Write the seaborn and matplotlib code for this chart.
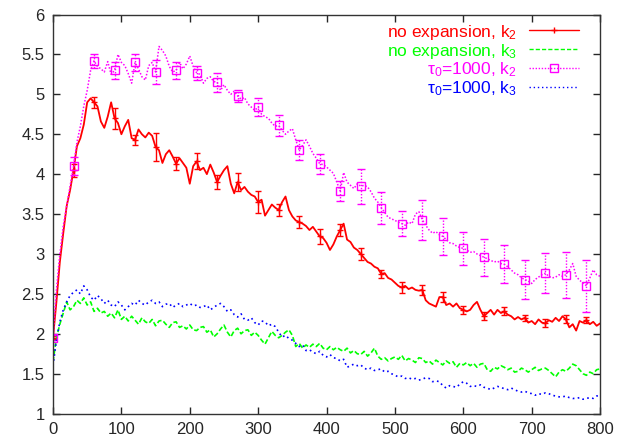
import numpy as np
import matplotlib
matplotlib.use('Agg')
import matplotlib.pyplot as plt
from matplotlib.lines import Line2D
from matplotlib.ticker import MultipleLocator, FormatStrFormatter
import seaborn as sns

# Time axis (one sample every 5 steps) and error-bar sample every 30 steps
time = np.arange(0, 805, 5)
err_step = 6

# no expansion, k2
k2_noexp = [1.95, 2.40, 2.90, 3.26, 3.60, 3.80, 4.05, 4.35, 4.45, 4.62,
            4.90, 4.95, 4.90, 4.85, 4.66, 4.58, 4.72, 4.90, 4.70, 4.64,
            4.50, 4.60, 4.68, 4.45, 4.43, 4.56, 4.50, 4.46, 4.52, 4.48,
            4.34, 4.30, 4.14, 4.25, 4.30, 4.22, 4.13, 4.20, 4.14, 4.08,
            3.88, 4.10, 4.16, 4.05, 4.08, 4.00, 4.12, 4.02, 3.90, 3.98,
            4.05, 4.10, 3.88, 3.76, 3.90, 3.80, 3.84, 3.78, 3.74, 3.72,
            3.65, 3.68, 3.48, 3.55, 3.62, 3.58, 3.55, 3.65, 3.72, 3.55,
            3.47, 3.42, 3.40, 3.38, 3.35, 3.30, 3.34, 3.28, 3.22, 3.20,
            3.14, 3.05, 3.12, 3.22, 3.30, 3.38, 3.18, 3.15, 3.08, 3.05,
            3.00, 2.95, 2.90, 2.88, 2.84, 2.82, 2.75, 2.76, 2.70, 2.68,
            2.64, 2.60, 2.58, 2.60, 2.56, 2.58, 2.55, 2.54, 2.55, 2.42,
            2.38, 2.36, 2.34, 2.46, 2.46, 2.36, 2.38, 2.34, 2.38, 2.32,
            2.30, 2.28, 2.30, 2.36, 2.40, 2.30, 2.22, 2.26, 2.30, 2.24,
            2.30, 2.26, 2.28, 2.24, 2.22, 2.18, 2.21, 2.18, 2.20, 2.14,
            2.16, 2.12, 2.18, 2.14, 2.13, 2.17, 2.15, 2.20, 2.16, 2.22,
            2.18, 2.08, 2.12, 2.04, 2.16, 2.14, 2.17, 2.12, 2.15, 2.10,
            2.13]

# no expansion, k3
k3_noexp = [1.65, 1.95, 2.12, 2.26, 2.40, 2.30, 2.34, 2.42, 2.38, 2.45,
            2.36, 2.40, 2.28, 2.32, 2.26, 2.28, 2.22, 2.26, 2.20, 2.30,
            2.18, 2.22, 2.16, 2.22, 2.17, 2.12, 2.20, 2.15, 2.13, 2.18,
            2.10, 2.16, 2.17, 2.12, 2.08, 2.14, 2.15, 2.08, 2.10, 2.06,
            2.11, 2.05, 2.04, 2.08, 2.09, 2.02, 2.05, 1.96, 2.00, 2.06,
            2.11, 2.02, 1.96, 2.04, 2.07, 2.00, 2.04, 2.05, 1.98, 2.02,
            1.98, 1.92, 1.87, 1.95, 2.03, 1.98, 1.95, 1.98, 2.02, 2.05,
            1.98, 1.84, 1.88, 1.82, 1.86, 1.83, 1.87, 1.84, 1.88, 1.82,
            1.80, 1.84, 1.80, 1.83, 1.80, 1.78, 1.82, 1.76, 1.79, 1.75,
            1.74, 1.78, 1.72, 1.76, 1.82, 1.72, 1.68, 1.70, 1.66, 1.69,
            1.71, 1.68, 1.73, 1.66, 1.69, 1.67, 1.64, 1.70, 1.69, 1.64,
            1.66, 1.62, 1.67, 1.64, 1.61, 1.66, 1.63, 1.65, 1.58, 1.63,
            1.61, 1.64, 1.60, 1.63, 1.58, 1.62, 1.63, 1.55, 1.53, 1.58,
            1.56, 1.60, 1.58, 1.55, 1.57, 1.52, 1.53, 1.57, 1.55, 1.52,
            1.55, 1.58, 1.54, 1.56, 1.57, 1.54, 1.50, 1.46, 1.52, 1.55,
            1.53, 1.57, 1.62, 1.60, 1.55, 1.50, 1.48, 1.52, 1.50, 1.55,
            1.56]

# tau0=1000, k2
k2_tau = [1.95, 2.55, 3.00, 3.35, 3.60, 3.85, 4.10, 4.40, 4.60, 4.85,
          5.05, 5.30, 5.42, 5.35, 5.32, 5.28, 5.41, 5.25, 5.30, 5.50,
          5.40, 5.36, 5.26, 5.14, 5.40, 5.32, 5.22, 5.18, 5.36, 5.40,
          5.28, 5.60, 5.55, 5.48, 5.35, 5.28, 5.30, 5.40, 5.32, 5.38,
          5.48, 5.35, 5.27, 5.25, 5.14, 5.20, 5.22, 5.16, 5.15, 5.05,
          5.12, 5.05, 5.00, 5.04, 4.98, 4.94, 4.96, 4.88, 4.84, 4.80,
          4.84, 4.75, 4.72, 4.70, 4.64, 4.60, 4.61, 4.55, 4.50, 4.54,
          4.57, 4.43, 4.30, 4.36, 4.43, 4.35, 4.26, 4.20, 4.13, 4.12,
          4.09, 4.05, 4.01, 3.90, 3.79, 4.02, 3.90, 3.86, 3.82, 3.88,
          3.85, 3.86, 3.84, 3.78, 3.70, 3.65, 3.58, 3.52, 3.46, 3.44,
          3.42, 3.40, 3.38, 3.36, 3.40, 3.38, 3.50, 3.53, 3.43, 3.36,
          3.30, 3.26, 3.28, 3.24, 3.22, 3.18, 3.14, 3.13, 3.10, 3.08,
          3.07, 3.05, 3.02, 3.03, 3.00, 2.98, 2.96, 2.94, 2.92, 2.90,
          2.91, 2.88, 2.87, 2.84, 2.80, 2.76, 2.74, 2.70, 2.68, 2.66,
          2.63, 2.68, 2.71, 2.74, 2.76, 2.72, 2.70, 2.71, 2.74, 2.72,
          2.74, 2.80, 2.88, 2.72, 2.67, 2.64, 2.60, 2.70, 2.80, 2.74,
          2.72]

# tau0=1000, k3
k3_tau = [1.60, 1.92, 2.15, 2.30, 2.40, 2.48, 2.52, 2.55, 2.50, 2.60,
          2.55, 2.46, 2.42, 2.48, 2.44, 2.38, 2.42, 2.36, 2.34, 2.40,
          2.36, 2.30, 2.34, 2.38, 2.36, 2.42, 2.38, 2.36, 2.40, 2.42,
          2.38, 2.40, 2.34, 2.37, 2.38, 2.33, 2.36, 2.38, 2.34, 2.36,
          2.38, 2.35, 2.36, 2.33, 2.34, 2.36, 2.30, 2.33, 2.36, 2.38,
          2.34, 2.28, 2.30, 2.24, 2.21, 2.25, 2.18, 2.17, 2.20, 2.14,
          2.11, 2.16, 2.15, 2.10, 2.12, 2.09, 2.02, 1.96, 1.98, 1.94,
          1.92, 1.88, 1.84, 1.86, 1.79, 1.80, 1.77, 1.75, 1.78, 1.73,
          1.71, 1.74, 1.70, 1.69, 1.66, 1.68, 1.58, 1.60, 1.62, 1.60,
          1.61, 1.57, 1.55, 1.57, 1.54, 1.55, 1.56, 1.52, 1.53, 1.50,
          1.48, 1.46, 1.47, 1.44, 1.45, 1.43, 1.44, 1.42, 1.43, 1.45,
          1.44, 1.40, 1.41, 1.40, 1.35, 1.32, 1.35, 1.34, 1.33, 1.37,
          1.40, 1.38, 1.34, 1.35, 1.34, 1.36, 1.33, 1.32, 1.30, 1.32,
          1.34, 1.33, 1.31, 1.30, 1.32, 1.30, 1.28, 1.27, 1.28, 1.26,
          1.25, 1.23, 1.25, 1.24, 1.26, 1.25, 1.23, 1.22, 1.21, 1.21,
          1.22, 1.20, 1.19, 1.19, 1.20, 1.18, 1.19, 1.20, 1.19, 1.22,
          1.23]

# error bars (every 30 steps, 0..780)
err_k2_noexp = [0.02, 0.08, 0.07, 0.13, 0.06, 0.18, 0.08, 0.10, 0.09, 0.11,
                0.14, 0.07, 0.08, 0.09, 0.08, 0.07, 0.05, 0.07, 0.06, 0.06,
                0.05, 0.05, 0.05, 0.04, 0.05, 0.05, 0.04]
err_k2_tau = [0.03, 0.11, 0.09, 0.11, 0.11, 0.15, 0.11, 0.09, 0.12, 0.07,
              0.11, 0.13, 0.125, 0.125, 0.13, 0.22, 0.20, 0.16, 0.25, 0.23,
              0.21, 0.23, 0.24, 0.24, 0.25, 0.29, 0.33]

labels = ['no expansion, k$_2$', 'no expansion, k$_3$',
          '\u03c4$_0$=1000, k$_2$', '\u03c4$_0$=1000, k$_3$']
colors = ['#ff0000', '#00ff00', '#ff00ff', '#0000ff']

# Plain white gnuplot-like style
sns.set_style('ticks')
plt.rcParams['font.family'] = ['Liberation Sans', 'DejaVu Sans']
plt.rcParams['mathtext.default'] = 'regular'

fig = plt.figure(figsize=(6.31, 4.40), dpi=100)
ax = fig.add_axes([0.084, 0.060, 0.867, 0.907])

# Subsampled points carrying the error bars
t_err = time[::err_step][:len(err_k2_noexp)]
y_err_red = np.array(k2_noexp)[::err_step][:len(err_k2_noexp)]
y_err_mag = np.array(k2_tau)[::err_step][:len(err_k2_tau)]

# no expansion, k2
sns.lineplot(x=time, y=k2_noexp, color=colors[0], lw=1.3, ax=ax)
ax.errorbar(t_err, y_err_red, yerr=err_k2_noexp, fmt='+', color=colors[0],
            ms=4, elinewidth=1.0, capsize=2.5, capthick=1.0)

# no expansion, k3
sns.lineplot(x=time, y=k3_noexp, color=colors[1], lw=1.2, ax=ax,
             linestyle=(0, (3, 1.5)))

# tau0=1000, k2
sns.lineplot(x=time, y=k2_tau, color=colors[2], lw=1.1, ax=ax,
             linestyle=(0, (1, 1.2)))
eb = ax.errorbar(t_err, y_err_mag, yerr=err_k2_tau, fmt='s', color=colors[2],
                 ms=6, mfc='none', mew=1.0, elinewidth=1.0, capsize=3,
                 capthick=1.0)
eb[2][0].set_linestyle((0, (1, 1.2)))

# tau0=1000, k3
sns.lineplot(x=time, y=k3_tau, color=colors[3], lw=1.2, ax=ax,
             linestyle=(0, (1, 2)))

# Axis limits and ticks
ax.set_xlim(0, 800)
ax.set_ylim(1, 6)
ax.xaxis.set_major_locator(MultipleLocator(100))
ax.yaxis.set_major_locator(MultipleLocator(0.5))
ax.yaxis.set_major_formatter(FormatStrFormatter('%g'))
ax.tick_params(direction='in', top=True, right=True, length=5, width=1,
               labelsize=12, pad=6)
for s in ax.spines.values():
    s.set_visible(True)
    s.set_linewidth(1.0)
    s.set_color('#333333')

# Legend: text right-aligned, sample to the right
handles = [
    Line2D([], [], color=colors[0], lw=1.0, marker='+', ms=5),
    Line2D([], [], color=colors[1], lw=1.0, linestyle=(0, (3, 1.5))),
    Line2D([], [], color=colors[2], lw=1.0, linestyle=(0, (1, 1.2)),
           marker='s', ms=6, mfc='none'),
    Line2D([], [], color=colors[3], lw=1.0, linestyle=(0, (1, 2))),
]
ax.legend(handles, labels, loc='upper right', bbox_to_anchor=(0.962, 0.98),
          frameon=False, markerfirst=False, numpoints=1, fontsize=12.5,
          labelcolor=colors, handlelength=2.9, handletextpad=0.7,
          labelspacing=0.0, borderpad=0.0, borderaxespad=0.0)

fig.savefig('out.png', dpi=100)
